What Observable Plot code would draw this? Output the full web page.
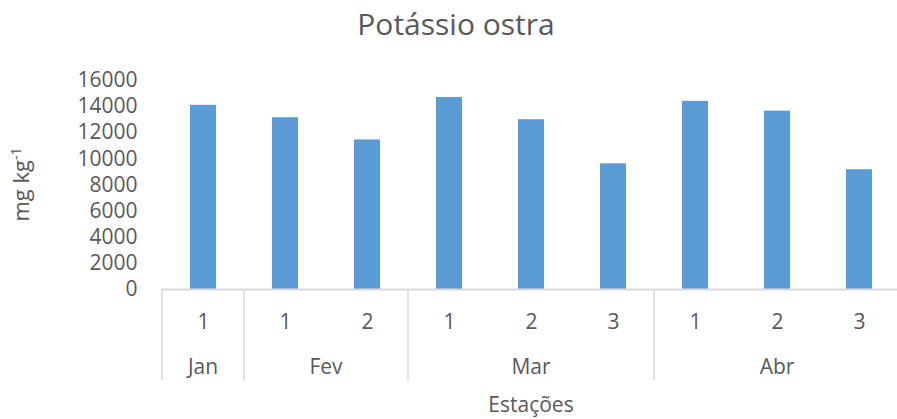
<!DOCTYPE html>
<html>
<head>
<meta charset="utf-8">
<script src="https://cdn.jsdelivr.net/npm/d3@7"></script>
<script src="https://cdn.jsdelivr.net/npm/@observablehq/plot@0.6"></script>
<style>
  html, body { margin: 0; padding: 0; background: #fff; }
  svg { font-family: "Open Sans", sans-serif; }
</style>
</head>
<body>
<div id="chart"></div>
<script>
// Potassium content in oysters, per sampling month and station
const months = ["Jan", "Fev", "Fev", "Mar", "Mar", "Mar", "Abr", "Abr", "Abr"];
const stations = ["1", "1", "2", "1", "2", "3", "1", "2", "3"];
const potassium = [14100, 13150, 11450, 14700, 13000, 9620, 14400, 13650, 9170];
const yTicks = [0, 2000, 4000, 6000, 8000, 10000, 12000, 14000, 16000];
const monthGroups = ["Jan", "Fev", "Mar", "Abr"];

const rows = months.map((m, i) => ({key: `${m}-${stations[i]}`, month: m, station: stations[i], value: potassium[i]}));
const keys = rows.map(d => d.key);
const stationOf = new Map(rows.map(d => [d.key, d.station]));

const W = 897, H = 419;
const gray = "#595959";
const lineGray = "#d9d9d9";

const chart = Plot.plot({
  width: W,
  height: H,
  marginLeft: 162,
  marginRight: 0,
  marginTop: 80,
  marginBottom: 130,
  style: {fontFamily: "Open Sans, sans-serif", background: "white", overflow: "visible"},
  x: {domain: keys, range: [162, 900], paddingInner: 0.683, paddingOuter: 0.3415, align: 0.5},
  y: {domain: [0, 16000], range: [289, 80]},
  marks: [
    Plot.barY(rows, {x: "key", y: "value", fill: "#5b9bd5"}),
    Plot.ruleY([0], {stroke: lineGray, strokeWidth: 2}),
    Plot.axisY({ticks: yTicks, tickSize: 0, tickPadding: 25, tickFormat: d => String(d),
      fontSize: 21, fill: gray, label: null}),
    Plot.axisX({tickSize: 0, tickPadding: 25, tickFormat: k => stationOf.get(k),
      fontSize: 21, fill: gray, label: null})
  ]
});

document.getElementById("chart").append(chart);

const svg = d3.select(chart);
const xs = chart.scale("x");
const ys = chart.scale("y");
const step = xs.step;
const center = k => xs.apply(k) + xs.bandwidth / 2;
const y0 = ys.apply(0);

// Group boundaries and month labels below the station labels
const groups = monthGroups.map(m => {
  const ks = rows.filter(d => d.month === m).map(d => d.key);
  return {month: m, left: center(ks[0]) - step / 2, right: center(ks[ks.length - 1]) + step / 2};
});
const bounds = [groups[0].left, ...groups.map(g => g.right)];

svg.append("g").selectAll("line").data(bounds).join("line")
  .attr("x1", d => d).attr("x2", d => d)
  .attr("y1", y0).attr("y2", y0 + 91)
  .attr("stroke", lineGray).attr("stroke-width", 1.5);

svg.append("g").selectAll("text").data(groups).join("text")
  .attr("x", g => (g.left + g.right) / 2)
  .attr("y", 367)
  .attr("dy", "0.35em")
  .attr("text-anchor", "middle")
  .attr("font-size", 21)
  .attr("fill", gray)
  .text(g => g.month);

// Axis title
svg.append("text")
  .attr("x", (xs.range[0] + xs.range[1]) / 2)
  .attr("y", 405)
  .attr("dy", "0.35em")
  .attr("text-anchor", "middle")
  .attr("font-size", 21)
  .attr("fill", gray)
  .text("Estações");

// Chart title
svg.append("text")
  .attr("x", 456)
  .attr("y", 35)
  .attr("text-anchor", "middle")
  .attr("font-size", 30)
  .attr("fill", gray)
  .text("Potássio ostra");

// Y axis title with superscript
const yl = svg.append("text")
  .attr("transform", `translate(29, ${(y0 + ys.apply(16000)) / 2}) rotate(-90)`)
  .attr("text-anchor", "middle")
  .attr("font-size", 22)
  .attr("fill", gray);
yl.append("tspan").text("mg kg");
yl.append("tspan").attr("font-size", 14).attr("dy", "-0.6em").text("-1");
</script>
</body>
</html>
